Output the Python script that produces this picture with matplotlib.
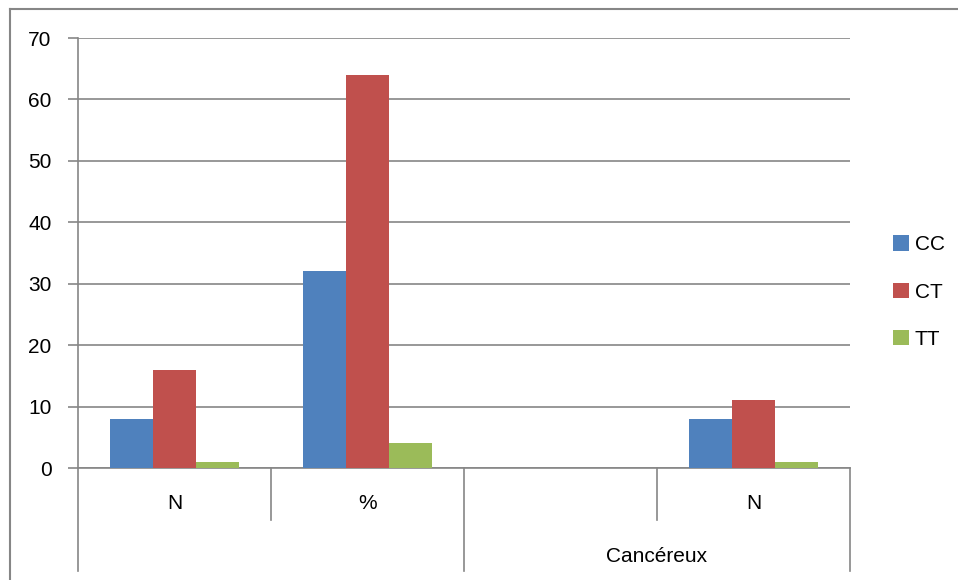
import numpy as np
import matplotlib.pyplot as plt
from matplotlib.lines import Line2D
from matplotlib.transforms import blended_transform_factory

# genotype counts / percentages per column
categories = ["N", "%", "", "N"]
groups = ["", "Cancéreux"]
series = ["CC", "CT", "TT"]
cc = [8, 32, 0, 8]
ct = [16, 64, 0, 11]
tt = [1, 4, 0, 1]
colors = ["#4F81BD", "#C0504D", "#9BBB59"]
grid_col = "#868686"

plt.rcParams["font.family"] = ["Liberation Sans", "DejaVu Sans"]
fs = 15

fig = plt.figure(figsize=(9.58, 5.8), dpi=100)
ax = fig.add_axes([78 / 958, 1 - 468 / 580, 772 / 958, 430 / 580])

x = np.arange(len(categories))
w = 0.223
for i, (vals, name) in enumerate(zip([cc, ct, tt], series)):
    ax.bar(x + (i - 1) * w, vals, width=w, color=colors[i], label=name, zorder=3)

ax.set_xlim(-0.5, len(categories) - 0.5)
ax.set_ylim(0, 70)
ax.set_yticks(np.arange(0, 71, 10))
ax.yaxis.grid(True, color=grid_col, linewidth=1.2, zorder=0)
ax.tick_params(axis="y", length=7, width=1.2, color=grid_col, labelsize=fs, pad=12)
ax.set_xticks([])
for s in ["top", "right"]:
    ax.spines[s].set_visible(False)
for s in ["left", "bottom"]:
    ax.spines[s].set_color(grid_col)
    ax.spines[s].set_linewidth(1.2)

# two-level category axis
tr = blended_transform_factory(ax.transData, ax.transAxes)
for xi, lab in zip(x, categories):
    ax.text(xi, -0.082, lab, transform=tr, ha="center", va="center", fontsize=fs)
for xs in [0.5, 2.5]:
    ax.add_line(Line2D([xs, xs], [0, -0.121], transform=tr, color=grid_col,
                       linewidth=1.2, clip_on=False))
for xs in [-0.5, 1.5, 3.5]:
    ax.add_line(Line2D([xs, xs], [0, -0.2395], transform=tr, color=grid_col,
                       linewidth=1.2, clip_on=False))
for gi, g in enumerate(groups):
    ax.text(gi * 2 + 0.5, -0.205, g, transform=tr, ha="center", va="center", fontsize=fs)

ax.legend(loc="center left", bbox_to_anchor=(893 / 958, 1 - 292 / 580),
          bbox_transform=fig.transFigure, frameon=False, fontsize=fs,
          handlelength=0.75, handleheight=0.75, handletextpad=0.3,
          labelspacing=1.35, borderpad=0, borderaxespad=0)

# chart frame
fig.add_artist(Line2D([9.5 / 958, 9.5 / 958], [0, 1 - 8.5 / 580], color=grid_col, linewidth=1.5))
fig.add_artist(Line2D([9.5 / 958, 1], [1 - 8.5 / 580, 1 - 8.5 / 580], color=grid_col, linewidth=1.5))

fig.savefig("out.png", dpi=100)
